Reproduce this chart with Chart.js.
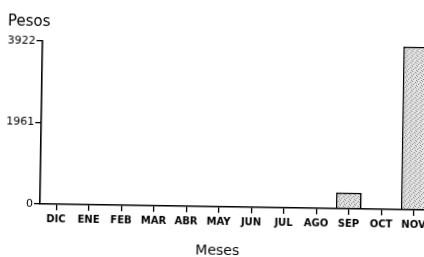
<!DOCTYPE html>
<html>
<head>
<meta charset="utf-8">
<script src="https://cdn.jsdelivr.net/npm/chart.js@4"></script>
<style>
  html, body { margin: 0; padding: 0; background: #fff; }
  #wrap { position: relative; width: 424px; height: 257px; overflow: hidden; background: #fff; }
  #c { position: absolute; left: 0; top: 0; transform-origin: 40px 204px; transform: rotate(0.9deg); }
</style>
</head>
<body>
<div id="wrap"><canvas id="c" width="432" height="257"></canvas></div>
<script>
// ---- data ----
const categories = ['DIC', 'ENE', 'FEB', 'MAR', 'ABR', 'MAY', 'JUN', 'JUL', 'AGO', 'SEP', 'OCT', 'NOV'];
const pesos = [0, 0, 0, 0, 0, 0, 0, 0, 0, 390, 0, 3922];
const yTickValues = [0, 1961, 3922];
const yTitle = 'Pesos';
const xTitle = 'Meses';

// stipple fill pattern (regular, deterministic)
function makePattern() {
  const p = document.createElement('canvas');
  p.width = 5; p.height = 5;
  const g = p.getContext('2d');
  g.fillStyle = '#e4e4e4';
  g.fillRect(0, 0, 5, 5);
  g.fillStyle = '#8a8a8a';
  g.fillRect(0, 0, 1, 1);
  g.fillRect(3, 1, 1, 1);
  g.fillRect(1, 3, 1, 1);
  g.fillRect(4, 4, 1, 1);
  g.fillStyle = '#b4b4b4';
  g.fillRect(2, 2, 1, 1);
  g.fillRect(4, 2, 1, 1);
  return document.getElementById('c').getContext('2d').createPattern(p, 'repeat');
}

const titlesPlugin = {
  id: 'titles',
  afterDraw(chart) {
    const ctx = chart.ctx;
    ctx.save();
    ctx.fillStyle = '#000';
    ctx.font = '15px "DejaVu Sans"';
    ctx.textBaseline = 'alphabetic';
    ctx.textAlign = 'left';
    ctx.fillText(yTitle, 5, 26);
    ctx.font = '14px "DejaVu Sans"';
    ctx.textAlign = 'center';
    ctx.fillText(xTitle, 218, 252);
    ctx.restore();
  }
};

new Chart(document.getElementById('c'), {
  type: 'bar',
  data: {
    labels: categories,
    datasets: [{
      data: pesos,
      backgroundColor: makePattern(),
      borderColor: '#000',
      borderWidth: 1.6,
      borderSkipped: 'bottom',
      categoryPercentage: 1,
      barPercentage: 0.79
    }]
  },
  options: {
    responsive: false,
    animation: false,
    devicePixelRatio: 1,
    layout: { padding: { top: 41, right: 2, left: 0, bottom: 0 } },
    plugins: { legend: { display: false }, tooltip: { enabled: false }, title: { display: false } },
    scales: {
      x: {
        type: 'category',
        offset: true,
        grid: { offset: false, drawOnChartArea: false, drawTicks: true, tickLength: 6, color: '#000', lineWidth: 1.3 },
        border: { display: true, color: '#000', width: 1.6 },
        ticks: { color: '#000', font: { family: 'DejaVu Sans', size: 10, weight: 'bold' }, padding: 3, maxRotation: 0, autoSkip: false },
        afterFit(scale) { scale.height = 53; }
      },
      y: {
        min: 0,
        max: yTickValues[yTickValues.length - 1],
        afterBuildTicks(scale) { scale.ticks = yTickValues.map(v => ({ value: v })); },
        grid: { drawOnChartArea: false, drawTicks: true, tickLength: 6, color: '#000', lineWidth: 1.3 },
        border: { display: true, color: '#000', width: 1.6 },
        ticks: { color: '#000', font: { family: 'DejaVu Sans', size: 11 }, padding: 1, callback: (v) => String(v) },
        afterFit(scale) { scale.width = 40; }
      }
    }
  },
  plugins: [titlesPlugin]
});
</script>
</body>
</html>
